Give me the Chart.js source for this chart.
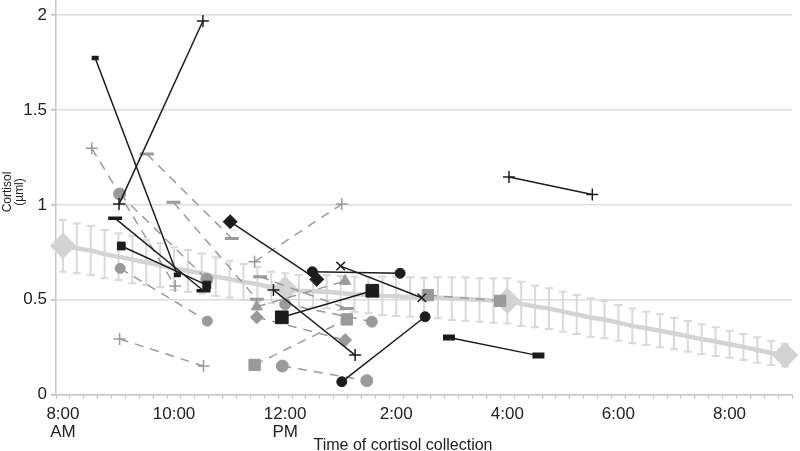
<!DOCTYPE html>
<html>
<head>
<meta charset="utf-8">
<script src="https://cdn.jsdelivr.net/npm/chart.js@4.4.1/dist/chart.umd.min.js"></script>
<style>
  html, body { margin: 0; padding: 0; background: #fff; }
</style>
</head>
<body>
<canvas id="cortisolChart" width="800" height="451"></canvas>
<script>
// mean curve: one value every 15 minutes, 8:00 AM -> 9:00 PM
const slotHours = [8, 8.25, 8.5, 8.75, 9, 9.25, 9.5, 9.75, 10, 10.25, 10.5, 10.75, 11, 11.25, 11.5, 11.75,
  12, 12.25, 12.5, 12.75, 13, 13.25, 13.5, 13.75, 14, 14.25, 14.5, 14.75, 15, 15.25, 15.5, 15.75,
  16, 16.25, 16.5, 16.75, 17, 17.25, 17.5, 17.75, 18, 18.25, 18.5, 18.75, 19, 19.25, 19.5, 19.75,
  20, 20.25, 20.5, 20.75, 21];
const meanCortisol = [0.784, 0.771, 0.759, 0.740, 0.727, 0.711, 0.696, 0.681, 0.664, 0.652, 0.639, 0.621,
  0.609, 0.593, 0.582, 0.564, 0.556, 0.547, 0.545, 0.542, 0.535, 0.529, 0.525, 0.520, 0.518, 0.514, 0.511,
  0.510, 0.506, 0.504, 0.499, 0.496, 0.494, 0.478, 0.464, 0.453, 0.437, 0.422, 0.406, 0.395, 0.378, 0.362,
  0.349, 0.336, 0.322, 0.307, 0.292, 0.279, 0.265, 0.251, 0.235, 0.219, 0.207];
const errHigh = [0.920, 0.902, 0.888, 0.867, 0.850, 0.836, 0.814, 0.797, 0.776, 0.762, 0.744, 0.723, 0.705,
  0.688, 0.674, 0.647, 0.639, 0.630, 0.630, 0.630, 0.625, 0.621, 0.621, 0.621, 0.621, 0.618, 0.616, 0.618,
  0.618, 0.618, 0.613, 0.613, 0.613, 0.595, 0.574, 0.560, 0.542, 0.525, 0.507, 0.493, 0.472, 0.454, 0.436,
  0.423, 0.405, 0.387, 0.370, 0.354, 0.336, 0.319, 0.302, 0.282, 0.266];
const errLow = [0.647, 0.639, 0.630, 0.613, 0.604, 0.586, 0.577, 0.565, 0.551, 0.542, 0.533, 0.519, 0.512,
  0.498, 0.489, 0.481, 0.472, 0.463, 0.460, 0.454, 0.445, 0.436, 0.428, 0.419, 0.414, 0.410, 0.407, 0.402,
  0.393, 0.389, 0.384, 0.378, 0.375, 0.361, 0.354, 0.345, 0.331, 0.319, 0.305, 0.296, 0.284, 0.270, 0.261,
  0.249, 0.238, 0.226, 0.213, 0.203, 0.194, 0.182, 0.168, 0.156, 0.147];
const meanMarkerSlots = [0, 16, 32, 52];

const tickHours = [8, 10, 12, 14, 16, 18, 20];
const tickText = [['8:00', 'AM'], '10:00', ['12:00', 'PM'], '2:00', '4:00', '6:00', '8:00'];
const xTitle = 'Time of cortisol collection';
const yTitle = ['Cortisol', '(µml)'];

// individual subjects, two samples each (hours, cortisol)
const subjectTimes = [
  [8.58, 10.06], [9.01, 10.52], [8.94, 10.53], [9.05, 10.59], [11.01, 12.57], [12.49, 14.07],
  [13.0, 14.46], [11.79, 13.26], [11.94, 13.57], [13.02, 14.52], [14.95, 16.56], [16.03, 17.53],
  [8.52, 10.02], [9.02, 10.59], [9.03, 10.6], [9.02, 10.53], [9.51, 11.04], [9.99, 11.49],
  [11.55, 13.11], [11.45, 13.02], [11.49, 13.08], [11.49, 13.08], [11.45, 13.11], [11.95, 13.47],
  [12.0, 13.56], [14.57, 15.87]
];
const subjectCortisol = [
  [1.774, 0.630], [1.004, 1.969], [0.929, 0.547], [0.783, 0.577], [0.911, 0.607], [0.647, 0.639],
  [0.677, 0.510], [0.551, 0.208], [0.407, 0.547], [0.067, 0.410], [0.300, 0.205], [1.147, 1.055],
  [1.298, 0.572], [1.057, 0.607], [0.665, 0.387], [0.293, 0.150], [1.268, 0.823], [1.013, 0.502],
  [0.621, 0.454], [0.700, 1.004], [0.463, 0.598], [0.407, 0.287], [0.156, 0.396], [0.150, 0.073],
  [0.477, 0.384], [0.524, 0.494]
];
const subjectStyle = [
  {tone: 'black', marker: 'line', r: 3.5, w: 4.5},
  {tone: 'black', marker: 'cross', r: 6, w: 1.5},
  {tone: 'black', marker: 'line', r: 7, w: 3.5},
  {tone: 'black', marker: 'rect', r: 5.5, w: 1},
  {tone: 'black', marker: 'rectRot', r: 7, w: 1},
  {tone: 'black', marker: 'circle', r: 5, w: 1},
  {tone: 'black', marker: 'crossRot', r: 6, w: 1.5},
  {tone: 'black', marker: 'cross', r: 6, w: 1.5},
  {tone: 'black', marker: 'rect', r: 9, w: 1},
  {tone: 'black', marker: 'circle', r: 5, w: 1},
  {tone: 'black', marker: 'line', r: 6, w: 6},
  {tone: 'black', marker: 'cross', r: 6, w: 1.5},
  {tone: 'gray', marker: 'cross', r: 6, w: 1.5},
  {tone: 'gray', marker: 'circle', r: 6, w: 1},
  {tone: 'gray', marker: 'circle', r: 5, w: 1},
  {tone: 'gray', marker: 'cross', r: 6, w: 1.5},
  {tone: 'gray', marker: 'line', r: 7, w: 3},
  {tone: 'gray', marker: 'line', r: 7, w: 3},
  {tone: 'gray', marker: 'line', r: 7, w: 3},
  {tone: 'gray', marker: 'cross', r: 6, w: 1.5},
  {tone: 'gray', marker: 'triangle', r: 6.5, w: 1},
  {tone: 'gray', marker: 'rectRot', r: 6.5, w: 1},
  {tone: 'gray', marker: 'rect', r: 8, w: 1},
  {tone: 'gray', marker: 'circle', r: 6, w: 1},
  {tone: 'gray', marker: 'circle', r: 5.5, w: 1},
  {tone: 'gray', marker: 'rect', r: 8, w: 1}
];

const FONT = '"Liberation Sans", Arial, sans-serif';
const MEAN_GREY = '#d3d3d3';

// error bars around the mean curve
const errorBarPlugin = {
  id: 'errorBars',
  beforeDatasetsDraw(chart) {
    const {ctx, scales: {x, y}} = chart;
    ctx.save();
    ctx.strokeStyle = '#d9d9d9';
    ctx.lineWidth = 2;
    slotHours.forEach((h, i) => {
      const px = x.getPixelForValue(h);
      const top = y.getPixelForValue(errHigh[i]);
      const bot = y.getPixelForValue(errLow[i]);
      ctx.beginPath();
      ctx.moveTo(px, top); ctx.lineTo(px, bot);
      ctx.moveTo(px - 4, top); ctx.lineTo(px + 4, top);
      ctx.moveTo(px - 4, bot); ctx.lineTo(px + 4, bot);
      ctx.stroke();
    });
    ctx.restore();
  }
};

// axis titles, placed like the original figure
const axisTitlePlugin = {
  id: 'axisTitles',
  afterDraw(chart) {
    const ctx = chart.ctx;
    ctx.save();
    ctx.fillStyle = '#222';
    ctx.textAlign = 'center';
    ctx.font = '16px ' + FONT;
    ctx.textBaseline = 'alphabetic';
    ctx.fillText(xTitle, 403, 450);

    ctx.font = '12px ' + FONT;
    ctx.textBaseline = 'middle';
    ctx.translate(0, 192);
    ctx.rotate(-Math.PI / 2);
    ctx.fillText(yTitle[0], 0, 7.5);
    ctx.fillText(yTitle[1], 0, 20);
    ctx.restore();
  }
};

const subjectSets = subjectTimes.map((times, i) => {
  const st = subjectStyle[i];
  const black = st.tone === 'black';
  const col = black ? '#1c1c1c' : '#9a9a9a';
  return {
    data: times.map((t, j) => ({x: t, y: subjectCortisol[i][j]})),
    borderColor: col,
    borderWidth: 1.5,
    borderDash: black ? [] : [9, 7],
    pointStyle: st.marker,
    pointRadius: st.r,
    pointBorderWidth: st.w,
    pointBackgroundColor: col,
    pointBorderColor: col,
    order: black ? 1 : 2
  };
});

const meanSet = {
  data: slotHours.map((h, i) => ({x: h, y: meanCortisol[i]})),
  borderColor: MEAN_GREY,
  borderWidth: 4.5,
  pointStyle: 'rectRot',
  pointRadius: (c) => meanMarkerSlots.includes(c.dataIndex) ? 10 : 0,
  pointBackgroundColor: MEAN_GREY,
  pointBorderColor: MEAN_GREY,
  clip: false,
  order: 10
};

new Chart(document.getElementById('cortisolChart'), {
  type: 'line',
  data: { datasets: [meanSet].concat(subjectSets) },
  options: {
    responsive: false,
    animation: false,
    events: [],
    layout: { autoPadding: false, padding: { left: 0, right: 8, top: 0, bottom: 0 } },
    plugins: { legend: { display: false }, tooltip: { enabled: false } },
    scales: {
      x: {
        type: 'linear',
        min: 7.875,
        max: 21.125,
        afterBuildTicks: (s) => { s.ticks = slotHours.map(v => ({value: v})); },
        afterFit: (s) => { s.height = 56.5; s.paddingLeft = 0; s.paddingRight = 0; },
        grid: { offset: true, drawOnChartArea: false, drawTicks: true, tickLength: 4, color: '#b8b8b8', tickColor: '#b8b8b8' },
        border: { color: '#c8c8c8', width: 1.5 },
        ticks: {
          autoSkip: false, maxRotation: 0, minRotation: 0, padding: 7, color: '#222',
          font: { family: FONT, size: 17, lineHeight: 1.06 },
          callback: (v) => { const k = tickHours.indexOf(v); return k >= 0 ? tickText[k] : ''; }
        }
      },
      y: {
        min: 0,
        max: 2.08,
        afterFit: (s) => { s.width = 56; s.paddingTop = 0; s.paddingBottom = 0; },
        grid: { color: '#dcdcdc', lineWidth: 1.5, drawTicks: true, tickLength: 5, tickColor: '#b8b8b8' },
        border: { color: '#c8c8c8', width: 1.5 },
        ticks: {
          stepSize: 0.5, includeBounds: false, padding: 4, color: '#222',
          font: { family: FONT, size: 17 },
          callback: (v) => String(v)
        }
      }
    }
  },
  plugins: [errorBarPlugin, axisTitlePlugin]
});
</script>
</body>
</html>
